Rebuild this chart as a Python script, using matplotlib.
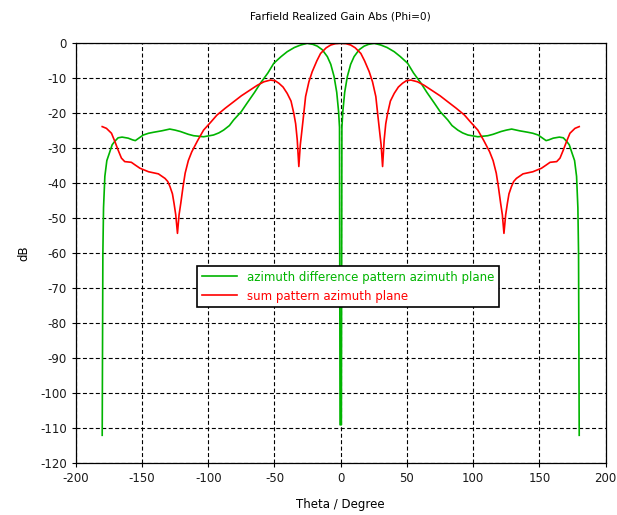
import matplotlib
matplotlib.use("Agg")
import matplotlib.pyplot as plt

plt.rcParams['font.family'] = ['DejaVu Sans']
plt.rcParams['axes.unicode_minus'] = False

# Green: azimuth difference pattern
diff_theta = [-180, -179.5, -179, -178, -176.5, -174.7, -172.5, -170.5, -168, -165,
              -160.4, -157, -155, -152, -149, -145, -141, -135, -129, -125,
              -121, -115, -111, -103.5, -96, -92, -88.4, -84, -80.8, -75,
              -70.7, -65, -60.6, -55, -50.5, -45, -40.4, -35, -30.3, -25.3,
              -21, -17.7, -14, -10.1, -7.5, -5, -3, -1.6, -0.9, -0.5,
              0.5, 0.9, 1.6, 3, 5, 7.5, 10.1, 14, 17.7, 21, 25.3,
              30.3, 35, 40.4, 45, 50.5, 55, 60.6, 65, 70.7, 75,
              80.8, 84, 88.4, 92, 96, 103.5, 111, 115, 121, 125,
              129, 135, 141, 145, 149, 152, 155, 157, 160.4, 165,
              168, 170.5, 172.5, 174.7, 176.5, 178, 179, 179.5, 180]
diff_db = [-112, -60, -47, -38, -33.5, -31.5, -29, -28, -27, -26.8,
           -27.1, -27.6, -27.8, -27, -26.2, -25.7, -25.4, -25, -24.5, -24.8,
           -25.2, -26, -26.4, -26.7, -26.2, -25.6, -24.8, -23.5, -21.9, -19.5,
           -17.1, -14, -11.4, -8.5, -5.7, -3.8, -2.4, -1.2, -0.5, 0,
           -0.3, -0.8, -1.8, -3.8, -6, -9.5, -14, -19.5, -24, -109,
           -109, -24, -19.5, -14, -9.5, -6, -3.8, -1.8, -0.8, -0.3, 0,
           -0.5, -1.2, -2.4, -3.8, -5.7, -8.5, -11.4, -14, -17.1, -19.5,
           -21.9, -23.5, -24.8, -25.6, -26.2, -26.7, -26.4, -26, -25.2, -24.8,
           -24.5, -25, -25.4, -25.7, -26.2, -27, -27.8, -27.6, -27.1, -26.8,
           -27, -28, -29, -31.5, -33.5, -38, -47, -60, -112]

# Red: sum pattern
sum_theta = [-180, -176.8, -173, -170.5, -168, -165.5, -163, -158, -155, -151.5,
             -145, -137.6, -132.6, -130.5, -128.8, -127, -125.8, -124.5, -123.2, -122,
             -120.7, -119, -117.4, -115, -112.4, -108, -103.5, -98, -93.4, -87,
             -80.8, -75, -68.2, -63, -58, -53, -49.5, -46.7, -43.5, -40.4,
             -37.5, -35.4, -34, -32.8, -31.6, -30.5, -29.8, -28, -26.5, -24,
             -21.5, -18, -15.2, -11, -7.6, -4, 0,
             4, 7.6, 11, 15.2, 18, 21.5, 24, 26.5, 28, 29.8,
             30.5, 31.6, 32.8, 34, 35.4, 37.5, 40.4, 43.5, 46.7, 49.5,
             53, 58, 63, 68.2, 75, 80.8, 87, 93.4, 98, 103.5,
             108, 112.4, 115, 117.4, 119, 120.7, 122, 123.2, 124.5, 125.8,
             127, 128.8, 130.5, 132.6, 137.6, 145, 151.5, 155, 158, 163,
             165.5, 168, 170.5, 173, 176.8, 180]
sum_db = [-23.8, -24.3, -25.7, -28, -30.5, -32.8, -33.8, -34, -34.8, -35.7,
          -36.7, -37.3, -38.6, -39.5, -41, -43, -45.7, -49, -54.3, -49,
          -45.7, -41, -37.1, -33.5, -31, -27.8, -24.8, -22.5, -20.5, -18.5,
          -16.7, -15, -13.3, -12, -11, -10.5, -10.7, -11.4, -12.5, -14.3,
          -16.5, -20, -23, -27.6, -35.2, -29, -26.7, -20.5, -15.2, -11,
          -8.1, -5, -2.9, -1.3, -0.5, -0.1, 0,
          -0.1, -0.5, -1.3, -2.9, -5, -8.1, -11, -15.2, -20.5, -26.7,
          -29, -35.2, -27.6, -23, -20, -16.5, -14.3, -12.5, -11.4, -10.7,
          -10.5, -11, -12, -13.3, -15, -16.7, -18.5, -20.5, -22.5, -24.8,
          -27.8, -31, -33.5, -37.1, -41, -45.7, -49, -54.3, -49, -45.7,
          -43, -41, -39.5, -38.6, -37.3, -36.7, -35.7, -34.8, -34, -33.8,
          -32.8, -30.5, -28, -25.7, -24.3, -23.8]

x_ticks = [-200, -150, -100, -50, 0, 50, 100, 150, 200]
y_ticks = [0, -10, -20, -30, -40, -50, -60, -70, -80, -90, -100, -110, -120]

fig = plt.figure(figsize=(6.17, 5.15), dpi=100)
ax = fig.add_axes([0.1227, 0.1004, 0.859, 0.8155])

ax.plot(diff_theta, diff_db, color='#00b400', lw=1.2,
        label='azimuth difference pattern azimuth plane')
ax.plot(sum_theta, sum_db, color='#ff0000', lw=1.2,
        label='sum pattern azimuth plane')

ax.set_xlim(-200, 200)
ax.set_ylim(-120, 0)
ax.set_xticks(x_ticks)
ax.set_yticks(y_ticks)
ax.set_xticklabels([str(v) for v in x_ticks])
ax.set_yticklabels([str(v) for v in y_ticks])
ax.tick_params(labelsize=8.5, length=3, color='black', labelcolor='#1a1a1a')
ax.grid(True, color='black', linestyle=(0, (3.6, 2.2)), linewidth=0.8)
for s in ax.spines.values():
    s.set_color('black')
    s.set_linewidth(0.9)

ax.set_title('Farfield Realized Gain Abs (Phi=0)', fontsize=7.6, pad=17)
ax.set_xlabel('Theta / Degree', fontsize=8.5, labelpad=9)
ax.set_ylabel('dB', fontsize=8.5, labelpad=7)

leg = ax.legend(loc='upper left', bbox_to_anchor=(0.229, 0.470), fontsize=8.5,
                fancybox=False, framealpha=1, edgecolor='black',
                borderaxespad=0, handlelength=3.0, labelspacing=0.5)
leg.get_frame().set_linewidth(1.2)
for t, c in zip(leg.get_texts(), ['#00b400', '#ff0000']):
    t.set_color(c)

fig.savefig('out.png', dpi=100)
